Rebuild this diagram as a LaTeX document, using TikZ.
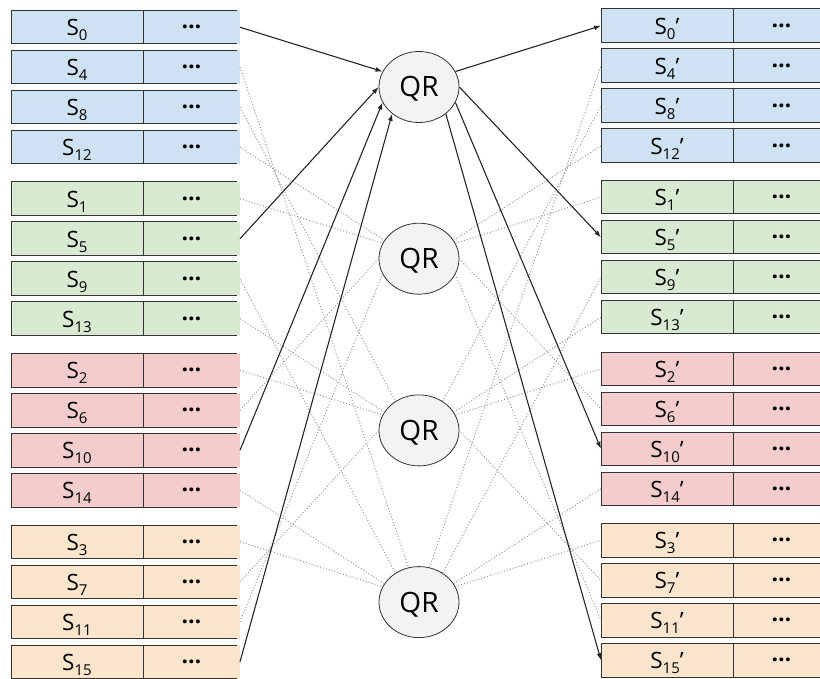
\documentclass[tikz,border=0pt]{standalone}
\usepackage{fontspec}
\setmainfont{Open Sans}
\usetikzlibrary{arrows.meta,shapes.geometric}
\definecolor{rowblue}{HTML}{CFE2F3}
\definecolor{rowgreen}{HTML}{D9EAD3}
\definecolor{rowred}{HTML}{F4CCCC}
\definecolor{roworange}{HTML}{FCE5CD}
\definecolor{qrgray}{HTML}{F3F3F3}
\definecolor{edge}{HTML}{333333}
\newcommand{\Sidx}[1]{S\raisebox{-5pt}{\fontsize{15pt}{15pt}\selectfont #1}}

\begin{document}
\begin{tikzpicture}[
  x=1pt, y=-1pt,
  cell/.style={minimum height=33.5pt, inner sep=0pt, outer sep=0pt, font=\fontsize{22.5pt}{26pt}\selectfont},
  namecell/.style={cell, draw=edge, line width=1pt, minimum width=132pt, text height=17pt, text depth=0pt},
  dotcell/.style={cell, minimum width=97pt, text height=2.8pt, text depth=0pt, font=\fontsize{23pt}{26pt}\selectfont\bfseries},
  cellline/.style={draw=edge, line width=1pt},
  qr/.style={ellipse, draw=edge, line width=0.8pt, fill=qrgray, minimum width=80pt, minimum height=71pt, inner sep=0pt, text height=20pt, text depth=0pt, font=\fontsize{28pt}{32pt}\selectfont},
  arr/.style={-{Latex[length=7pt,width=5pt]}, line width=1.1pt, draw=black!85},
  faint/.style={draw=black!40, line width=1pt, dash pattern=on 1pt off 2pt},
]
  \useasboundingbox (0,0) rectangle (820,679);
  \clip (0,0) rectangle (820,679);

  % State words, input (left) and output (right)
  \foreach \g/\c in {0/rowblue,1/rowgreen,2/rowred,3/roworange}{
    \foreach \k in {0,...,3}{
      \pgfmathtruncatemacro{\n}{4*\k+\g}
      \pgfmathsetmacro{\rowy}{10.5+\g*171.5+\k*40}
      \node[namecell, fill=\c, anchor=north west] (s\n) at (11,\rowy) {\Sidx{\n}};
      \node[dotcell, fill=\c, anchor=west] (d\n) at (s\n.east) {…};
      \draw[cellline] ([xshift=-3pt]d\n.north east) -- (d\n.north west) -- (d\n.south west) -- ([xshift=-3pt]d\n.south east);
      \node[namecell, fill=\c, anchor=north west] (t\n) at (601,{\rowy-1.5}) {\Sidx{\n}’};
      \node[dotcell, cellline, fill=\c, anchor=west] (u\n) at (t\n.east) {…};
    }
  }

  % Quarter rounds
  \foreach \j in {0,...,3}
    \node[qr] (qr\j) at (419,{87+\j*171.7}) {QR};

  % Diagonal wiring
  \foreach \j/\ls in {1/faint,2/faint,3/faint,0/arr}{
    \foreach \k in {0,...,3}{
      \pgfmathtruncatemacro{\g}{mod(\j+\k,4)}
      \pgfmathtruncatemacro{\n}{4*\k+\g}
      \pgfmathsetmacro{\dd}{10.5+\g*171.5+\k*40+16.75-(87+\j*171.7)}
      \pgfmathtruncatemacro{\ain}{round(163.8+0.1066*\dd)}
      \pgfmathtruncatemacro{\aout}{mod(540-\ain,360)}
      \draw[\ls] (d\n.east) -- (qr\j.\ain);
      \draw[\ls] (qr\j.\aout) -- (t\n.west);
    }
  }
\end{tikzpicture}
\end{document}
